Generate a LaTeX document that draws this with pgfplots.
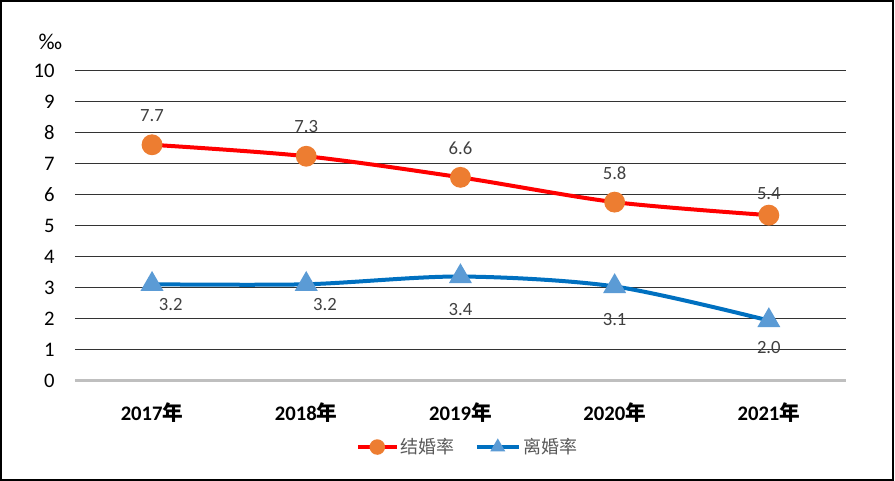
\documentclass[border=0pt]{standalone}
\usepackage{pgfplots}
\usepackage{pgfplotstable}
\pgfplotsset{compat=1.18}
\usepackage{fontspec}
\setmainfont{Carlito}
\newfontfamily\cjk{Noto Sans CJK SC}
\definecolor{redline}{HTML}{FF0000}
\definecolor{orangem}{HTML}{ED7D31}
\definecolor{blueline}{HTML}{0070C0}
\definecolor{bluem}{HTML}{5B9BD5}
\definecolor{gridc}{HTML}{333333}
\definecolor{labc}{HTML}{404040}
\definecolor{legc}{HTML}{595959}

\pgfplotstableread{
x y lab dx dy
0 7.62 7.7 0 22
1 7.25 7.3 0 22
2 6.57 6.6 0 22
3 5.77 5.8 0 22
4 5.35 5.4 0 16
}\marriage
\pgfplotstableread{
x y lab dx dy
0 3.12 3.2 14 -15
1 3.12 3.2 14 -15
2 3.37 3.4 0 -25
3 3.05 3.1 0 -25
4 1.95 2.0 0 -20
}\divorce

\begin{document}
\begin{tikzpicture}
\path[use as bounding box] (0,0) rectangle (671.25pt,360.75pt);
\draw[line width=1.5pt] (0.75pt,0.75pt) rectangle (669.75pt,360pt);
\node[font=\fontsize{17}{17}\selectfont, text=black] at (37.8pt,329pt) {‰};
\begin{axis}[
  at={(56.2pt,75pt)}, anchor=south west,
  scale only axis, width=578.25pt, height=232.5pt,
  xmin=-0.5, xmax=4.5, ymin=0, ymax=10,
  xtick={0,1,2,3,4},
  xticklabels={2017{\cjk 年},2018{\cjk 年},2019{\cjk 年},2020{\cjk 年},2021{\cjk 年}},
  ytick={0,1,...,10},
  axis x line*=bottom, axis y line*=left,
  y axis line style={draw=none},
  x axis line style={draw=gray!50, line width=2.25pt},
  ymajorgrids, major grid style={gridc, line width=0.75pt},
  major tick length=0pt,
  /pgf/number format/assume math mode=true,
  xticklabel style={anchor=center, inner sep=0pt, yshift=-24pt, font=\bfseries\fontsize{15.5}{15.5}\selectfont, text=black},
  yticklabel style={anchor=east, inner sep=0pt, xshift=-15pt, font=\fontsize{15.5}{15.5}\selectfont, text=black},
  clip=false,
  legend style={at={(0.51,-0.213)}, anchor=center, draw=none, legend columns=2,
    font=\cjk\fontsize{13.5}{13.5}\selectfont, text=legc,
    /tikz/every even column/.append style={column sep=13pt}},
]
\addplot[redline, line width=3pt, smooth, mark=*, mark size=6.3pt,
  mark options={fill=orangem, draw=orangem},
  legend image code/.code={\draw[mark repeat=2,mark phase=2,mark size=4.3pt] plot coordinates {(0cm,0cm)(0.5cm,0cm)(1cm,0cm)};},
  nodes near coords, point meta=explicit symbolic,
  visualization depends on={\thisrow{dx} \as \dx},
  visualization depends on={\thisrow{dy} \as \dy},
  every node near coord/.append style={anchor=center, xshift=\dx pt, yshift=\dy pt, font=\fontsize{14}{14}\selectfont, text=labc}]
  table[x=x, y=y, meta=lab]{\marriage};
\addlegendentry{结婚率}
\addplot[blueline, line width=3pt, smooth, mark=triangle*, mark size=7pt,
  mark options={fill=bluem, draw=bluem},
  legend image code/.code={\draw[mark repeat=2,mark phase=2,mark size=3.5pt] plot coordinates {(0cm,0cm)(0.55cm,0cm)(1.1cm,0cm)};},
  nodes near coords, point meta=explicit symbolic,
  visualization depends on={\thisrow{dx} \as \dx},
  visualization depends on={\thisrow{dy} \as \dy},
  every node near coord/.append style={anchor=center, xshift=\dx pt, yshift=\dy pt, font=\fontsize{14}{14}\selectfont, text=labc}]
  table[x=x, y=y, meta=lab]{\divorce};
\addlegendentry{离婚率}
\end{axis}
\end{tikzpicture}
\end{document}
